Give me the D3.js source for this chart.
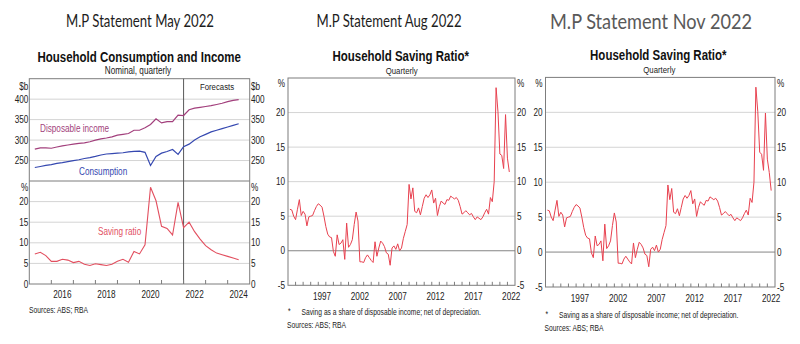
<!DOCTYPE html>
<html>
<head>
<meta charset="utf-8">
<script src="https://cdn.jsdelivr.net/npm/d3@7"></script>
<style>
  body { margin: 0; background: #fff; }
  svg { display: block; }
  text { font-family: "Liberation Sans", Arial, sans-serif; fill: #222; }
  .head { font-family: Lato, "Open Sans", sans-serif; }
</style>
</head>
<body>
<svg id="chart" width="800" height="344"></svg>
<script>
// ---- Household consumption and income (quarterly, $b), first quarter 2015 Q1 ----
const incomeStart = [2015, 1];
const disposableIncome = [278, 281, 281, 280, 283, 286, 288, 290, 292, 293, 296, 300, 303, 305, 308, 312,
  314, 316, 324, 324, 330, 338, 352, 342, 345, 345, 361, 360, 374, 378, 380, 382, 384, 387, 390, 394, 397, 399];
const consumption = [233, 235.5, 238, 240, 243, 245, 247.5, 250, 252, 255, 257, 260, 263.5, 266, 267, 268,
  269, 271, 272.5, 273, 270, 238, 260, 268, 272, 277, 265, 284, 290, 300, 308, 314, 320, 324, 328, 332, 336, 340];
const savingMay = [7.3, 7.7, 6.9, 5.5, 5.5, 6.0, 5.8, 5.2, 5.5, 4.8, 4.5, 4.9, 4.7, 4.5, 4.8, 5.5,
  6.0, 5.3, 7.9, 7.3, 9.5, 23.5, 20.2, 14.0, 13.5, 11.9, 19.8, 13.7, 15.0, 12.7, 10.9, 9.3, 8.3, 7.5, 7.1, 6.7, 6.3, 5.9];
const forecastStart = 2022;
const upperTicks = [250, 300, 350, 400];
const lowerTicks = [0, 5, 10, 15, 20];
const mayYearLabels = [2016, 2018, 2020, 2022, 2024];

// ---- Household saving ratio (quarterly, %), first quarter 1993 Q1 ----
const savingStart = [1993, 1];
const savingHistory = [6.0, 5.9, 5.0, 4.5, 6.0, 7.4, 5.1, 5.7, 5.3, 3.6, 4.9, 5.0, 5.1, 5.8, 6.4, 6.8,
  6.6, 6.3, 5.0, 3.5, 2.4, 2.0, 1.9, -0.1, -0.8, 2.3, 0.9, 1.1, 1.6, -1.25, 4.0, 0.5,
  0.9, 1.6, 3.8, 5.6, 4.3, -1.6, -1.6, -1.7, -1.0, -0.6, -1.0, -1.4, -1.7, 1.3, -0.8, 0.4,
  1.4, 1.1, 0.6, -0.3, -0.5, -2.1, 0.4, 0.7, 0.2, 1.0, 0.0, 0.4, 1.8, 2.8, 3.8, 9.6,
  7.5, 9.1, 5.7, 5.5, 6.2, 5.2, 6.4, 7.6, 8.1, 7.7, 8.1, 8.8, 6.9, 7.6, 5.1, 6.4,
  7.2, 6.9, 6.7, 7.4, 7.3, 7.9, 7.7, 7.5, 7.7, 7.3, 6.4, 5.3, 5.5, 5.8, 5.5, 5.2,
  5.4, 4.9, 4.5, 4.9, 4.7, 4.5, 4.9, 5.5, 6.0, 5.3, 7.7, 7.1, 10.0, 23.6, 20.1];
const savingAugRecent = [14.0, 13.8, 11.9, 19.7, 13.4, 11.4];
const savingNovRecent = [14.3, 14.0, 11.7, 19.9, 13.3, 11.4, 8.8];
const savingAug = savingHistory.concat(savingAugRecent);
const savingNov = savingHistory.concat(savingNovRecent);
const savingTicks = [-5, 0, 5, 10, 15, 20];
const savingYearLabels = [1997, 2002, 2007, 2012, 2017, 2022];

// Quarterly observations are placed at the end of their quarter.
function quarterly(values, start) {
  return values.map((v, i) => {
    const q = start[1] - 1 + i;
    return { t: start[0] + Math.floor(q / 4) + ((q % 4) + 1) / 4, v: v };
  });
}

const svg = d3.select("#chart");
const gridColor = "#d4d4d4";
const frameColor = "#7d7d7d";
const narrow = 0.82; // horizontal squeeze giving a narrow sans face

function label(g, x, y, str, opt) {
  opt = opt || {};
  const t = g.append("text").text(str)
    .attr("text-anchor", opt.anchor || "start")
    .attr("font-size", opt.size || 10);
  if (opt.cls === "head") {
    t.attr("x", x).attr("y", y).attr("class", "head");
  } else {
    t.attr("x", 0).attr("y", 0)
      .attr("transform", `translate(${x},${y}) scale(${narrow},1)`);
  }
  if (opt.dy) t.attr("dy", opt.dy);
  if (opt.weight) t.attr("font-weight", opt.weight);
  if (opt.fill) t.style("fill", opt.fill);
  if (opt.len) t.attr("textLength", opt.len).attr("lengthAdjust", "spacingAndGlyphs");
  return t;
}

function hGrid(g, y, vals, x0, x1, colorFor) {
  g.selectAll(null).data(vals).enter().append("line")
    .attr("x1", x0).attr("x2", x1)
    .attr("y1", d => y(d)).attr("y2", d => y(d))
    .attr("stroke", d => colorFor ? colorFor(d) : gridColor).attr("stroke-width", 1);
}

function sideLabels(g, y, vals, xl, xr) {
  vals.forEach(v => {
    label(g, xl, y(v), v, { anchor: "end", dy: "0.35em" });
    label(g, xr, y(v), v, { anchor: "start", dy: "0.35em" });
  });
}

function yearTicks(g, x, years, yb, len) {
  g.selectAll(null).data(years).enter().append("line")
    .attr("x1", d => x(d)).attr("x2", d => x(d))
    .attr("y1", yb).attr("y2", yb - len)
    .attr("stroke", frameColor).attr("stroke-width", 1);
}

// ================= Panel 1: May 2022 =================
(function () {
  const P = { left: 29.3, right: 249.7, top: 78.7, mid: 181, bottom: 284 };
  const g = svg.append("g");
  const x = d3.scaleLinear().domain([2015, 2025]).range([P.left, P.right]);
  const yUp = d3.scaleLinear().domain([200, 450]).range([P.mid, P.top]);
  const yLo = d3.scaleLinear().domain([0, 25]).range([P.bottom, P.mid]);

  label(g, 140, 26.7, "M.P Statement May 2022", { anchor: "middle", size: 17, cls: "head", len: 148, fill: "#1d1d1d" });
  label(g, 139.2, 61.5, "Household Consumption and Income", { anchor: "middle", size: 14, weight: "bold", fill: "#111" });
  label(g, 138, 74, "Nominal, quarterly", { anchor: "middle", size: 10 });

  hGrid(g, yUp, upperTicks, P.left, P.right);
  hGrid(g, yLo, lowerTicks.filter(d => d > 0), P.left, P.right);

  g.append("rect").attr("x", P.left).attr("y", P.top)
    .attr("width", P.right - P.left).attr("height", P.bottom - P.top)
    .attr("fill", "none").attr("stroke", frameColor);
  g.append("line").attr("x1", P.left).attr("x2", P.right).attr("y1", P.mid).attr("y2", P.mid)
    .attr("stroke", frameColor);
  g.append("line").attr("x1", x(forecastStart)).attr("x2", x(forecastStart))
    .attr("y1", P.top).attr("y2", P.bottom).attr("stroke", "#5a5a5a");
  label(g, 217, 90, "Forecasts", { anchor: "middle", size: 9.5 });

  yearTicks(g, x, d3.range(2016, 2025), P.bottom, 4);
  mayYearLabels.forEach(yr => label(g, x(yr + 0.5), 298.3, yr, { anchor: "middle" }));

  sideLabels(g, yUp, upperTicks, 28.3, 251);
  sideLabels(g, yLo, lowerTicks, 28.3, 251);
  label(g, 28.3, 86, "$b", { anchor: "end", dy: "0.35em" });
  label(g, 251, 86, "$b", { anchor: "start", dy: "0.35em" });
  label(g, 28.3, 187, "%", { anchor: "end", dy: "0.35em" });
  label(g, 251, 187, "%", { anchor: "start", dy: "0.35em" });

  const incomeColor = "#a23f7c", consColor = "#3548b0", saveColor = "#e24f5f";
  const lineUp = d3.line().x(d => x(d.t)).y(d => yUp(d.v));
  const lineLo = d3.line().x(d => x(d.t)).y(d => yLo(d.v));
  g.append("path").attr("d", lineUp(quarterly(disposableIncome, incomeStart)))
    .attr("fill", "none").attr("stroke", incomeColor).attr("stroke-width", 1.2);
  g.append("path").attr("d", lineUp(quarterly(consumption, incomeStart)))
    .attr("fill", "none").attr("stroke", consColor).attr("stroke-width", 1.2);
  g.append("path").attr("d", lineLo(quarterly(savingMay, incomeStart)))
    .attr("fill", "none").attr("stroke", saveColor).attr("stroke-width", 1.1);

  label(g, 40, 131.5, "Disposable income", { fill: incomeColor });
  label(g, 79, 174.5, "Consumption", { fill: consColor });
  label(g, 98, 234.5, "Saving ratio", { fill: saveColor });

  label(g, 29, 313, "Sources: ABS; RBA", { size: 8.2 });
})();

// ================= Panels 2 and 3: Aug and Nov 2022 =================
function savingPanel(P, data, head) {
  const g = svg.append("g");
  const x = d3.scaleLinear().domain([1993, 2023]).range([P.left, P.right]);
  const y = d3.scaleLinear().domain([-5, 25]).range([P.bottom, P.top]);

  label(g, head.cx, head.base, head.text, { anchor: "middle", size: head.size, cls: "head", len: head.len, fill: head.fill });
  label(g, head.tx, head.tBase, "Household Saving Ratio*", { anchor: "middle", size: 14, weight: "bold", fill: "#111" });
  label(g, head.tx + 1, head.tBase + 13, "Quarterly", { anchor: "middle", size: 9.5 });

  hGrid(g, y, savingTicks.filter(d => d > -5), P.left, P.right, d => d === 0 ? "#858585" : gridColor);
  g.append("rect").attr("x", P.left).attr("y", P.top)
    .attr("width", P.right - P.left).attr("height", P.bottom - P.top)
    .attr("fill", "none").attr("stroke", frameColor);

  yearTicks(g, x, d3.range(1994, 2023), P.bottom, 3.5);
  savingYearLabels.forEach(yr => label(g, x(yr + 0.5), P.xBase, yr, { anchor: "middle" }));

  sideLabels(g, y, savingTicks, P.left - 3, P.right + 2);
  label(g, P.left - 3, 83, "%", { anchor: "end", dy: "0.35em" });
  label(g, P.right + 2, 83, "%", { anchor: "start", dy: "0.35em" });

  const line = d3.line().x(d => x(d.t)).y(d => y(d.v));
  g.append("path").attr("d", line(quarterly(data, savingStart)))
    .attr("fill", "none").attr("stroke", "#e8414f").attr("stroke-width", 1);

  label(g, P.left, P.noteBase - 1, "*", { size: 8.2 });
  label(g, P.left + 13.5, P.noteBase, "Saving as a share of disposable income; net of depreciation.", { size: 8.2 });
  label(g, P.left - 1, P.noteBase + 13, "Sources: ABS; RBA", { size: 8.2 });
}

savingPanel({ left: 288, right: 515, top: 78, bottom: 285.3, xBase: 300, noteBase: 315 }, savingAug,
  { text: "M.P Statement Aug 2022", cx: 389, base: 26.7, size: 17, len: 145, fill: "#1d1d1d",
    tx: 400.7, tBase: 60.7 });
savingPanel({ left: 545.5, right: 775, top: 77.4, bottom: 287, xBase: 301.5, noteBase: 318 }, savingNov,
  { text: "M.P Statement Nov 2022", cx: 651, base: 29.3, size: 20.5, len: 202, fill: "#595959",
    tx: 658.3, tBase: 60 });
</script>
</body>
</html>
